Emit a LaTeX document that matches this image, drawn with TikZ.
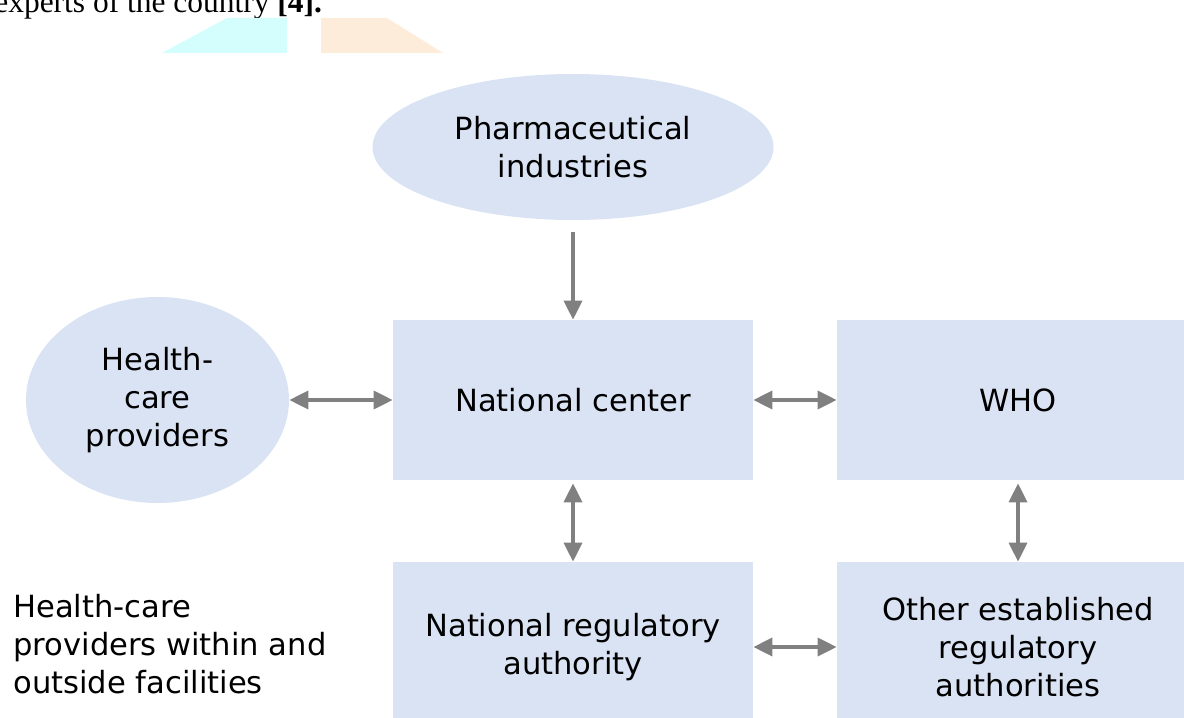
\documentclass[tikz,border=0pt]{standalone}
\usepackage{fontspec}
\setmainfont{DejaVu Sans}
\newfontfamily\timesfont{Liberation Serif}
\usetikzlibrary{shapes.geometric,arrows.meta}

\definecolor{boxfill}{RGB}{218,227,243}
\definecolor{linkgray}{RGB}{128,128,128}
\definecolor{tabcyan}{RGB}{212,254,254}
\definecolor{tabpeach}{RGB}{254,236,219}

\begin{document}
\begin{tikzpicture}[
    font=\fontsize{17.4}{21.6}\selectfont,
    box/.style={fill=boxfill, minimum width=7.2cm, minimum height=3.2cm, align=center, inner sep=0pt},
    oval/.style={ellipse, fill=boxfill, align=center, inner sep=0pt},
    link/.style={draw=linkgray, line width=2pt, -{Triangle[length=0.38cm, width=0.36cm]}},
    both/.style={link, {Triangle[length=0.38cm, width=0.36cm]}-{Triangle[length=0.38cm, width=0.36cm]}}
]

    \useasboundingbox (0,0) rectangle (23.68,14.34);
    \clip (0,0) rectangle (23.68,14.34);

    % --- Cut-off text and tabs at the top ---
    \node[anchor=base west, inner sep=0pt, font=\timesfont\fontsize{17.9}{20}\selectfont] (cite) at (-0.12, 14.08) {experts of the country \textbf{[4].}};
    \fill[tabcyan] (3.24, 13.28) -- (4.54, 13.98) -- (5.74, 13.98) -- (5.74, 13.28) -- cycle;
    \fill[tabpeach] (6.42, 13.28) -- (6.42, 13.98) -- (7.74, 13.98) -- (8.86, 13.28) -- cycle;

    % --- Ovals ---
    \node[oval, minimum width=8.02cm, minimum height=2.92cm] (pharma) at (11.46, 11.40) {Pharmaceutical\\industries};
    \node[oval, minimum width=5.26cm, minimum height=4.12cm] (hcp) at (3.15, 6.34) {Health-\\care\\providers};

    % --- Boxes ---
    \node[box] (natc) at (11.46, 6.34) {National center};
    \node[box, minimum width=7.24cm] (who) at (20.36, 6.34) {WHO};
    \node[box, minimum height=3.4cm] (nra) at (11.46, 1.40) {National regulatory\\authority};
    \node[box, minimum width=7.24cm, minimum height=3.4cm] (other) at (20.36, 1.40) {Other established\\regulatory\\authorities};

    % --- Side note ---
    \node[anchor=north west, align=left, inner sep=0pt] (note) at (0.26, 2.46) {Health-care\\providers within and\\outside facilities};

    % --- Arrows ---
    \draw[link, shorten <=0.24cm] (pharma.south) -- (natc.north);
    \draw[both] (hcp.east) -- (natc.west);
    \draw[both] (natc.east) -- (who.west);
    \draw[both, shorten <=0.06cm] (natc.south) -- (nra.north);
    \draw[both, shorten <=0.06cm] (who.south) -- (other.north);
    \draw[both] (nra.east) -- (other.west);

\end{tikzpicture}
\end{document}
